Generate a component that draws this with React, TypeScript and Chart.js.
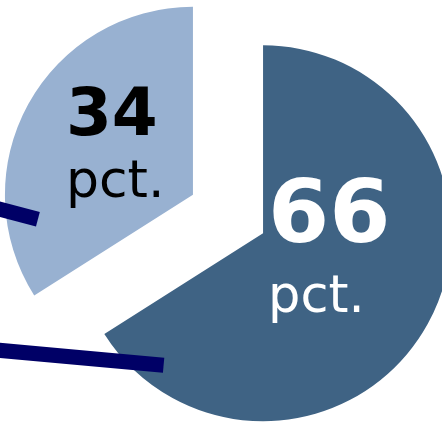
import React, { useEffect, useRef } from "react";
import { Chart, registerables } from "chart.js";

Chart.register(...registerables);

// ---- data ----
const categories = ["Share A", "Share B"];
const values = [66, 34];
const valueLabels = ["66", "34"];
const unitLabels = ["pct.", "pct."];

// ---- styles ----
const sliceColors = ["#3f6384", "#98b1d1"];
const textColors = ["#ffffff", "#000000"];
const numberFontSizes = [88, 66];
const unitFontSizes = [51, 52];
// label placement relative to each (exploded) slice centre, px
const labelDx = [5, -127];
const numberDy = [9, -60];
const unitDy = [79, 2];
// leader lines: end point in polar coords about slice centre (fraction of radius, degrees), line angle
const leaderEndFrac = [0.879, 0.835];
const leaderEndAngle = [127.0, 171.0];
const leaderDir = [5.2, 14.9];
const leaderColor = "#000066";
const leaderWidth = 15;
const explode = 40;
const pieRadius = 188;

const explodePlugin = {
  id: "explodeSlices",
  afterDatasetUpdate(chart: any, args: any) {
    const meta = args.meta;
    meta.data.forEach((arc: any) => {
      const mid = (arc.startAngle + arc.endAngle) / 2;
      arc.x += Math.cos(mid) * explode;
      arc.y += Math.sin(mid) * explode;
    });
  },
};

const overlayPlugin = {
  id: "labelsAndLeaders",
  afterDatasetsDraw(chart: any) {
    const ctx = chart.ctx;
    const meta = chart.getDatasetMeta(0);
    meta.data.forEach((arc: any, i: number) => {
      const { x, y } = arc.getProps(["x", "y"], true);
      ctx.save();
      ctx.fillStyle = textColors[i];
      ctx.textAlign = "left";
      ctx.textBaseline = "alphabetic";
      ctx.font = `bold ${numberFontSizes[i]}px "DejaVu Sans"`;
      ctx.fillText(valueLabels[i], x + labelDx[i], y + numberDy[i]);
      ctx.font = `${unitFontSizes[i]}px "DejaVu Sans"`;
      ctx.fillText(unitLabels[i], x + labelDx[i], y + unitDy[i]);
      ctx.restore();
    });
    meta.data.forEach((arc: any, i: number) => {
      const { x, y, outerRadius } = arc.getProps(["x", "y", "outerRadius"], true);
      const a = (leaderEndAngle[i] * Math.PI) / 180;
      const ex = x + Math.cos(a) * outerRadius * leaderEndFrac[i];
      const ey = y + Math.sin(a) * outerRadius * leaderEndFrac[i];
      const d = (leaderDir[i] * Math.PI) / 180;
      const len = 400;
      ctx.save();
      ctx.strokeStyle = leaderColor;
      ctx.lineWidth = leaderWidth;
      ctx.lineCap = "butt";
      ctx.beginPath();
      ctx.moveTo(ex - Math.cos(d) * len, ey - Math.sin(d) * len);
      ctx.lineTo(ex, ey);
      ctx.stroke();
      ctx.restore();
    });
  },
};

export default function App() {
  const ref = useRef<HTMLCanvasElement | null>(null);
  useEffect(() => {
    if (!ref.current) return;
    const chart = new Chart(ref.current, {
      type: "pie",
      data: {
        labels: categories,
        datasets: [
          {
            data: values,
            backgroundColor: sliceColors,
            borderWidth: 0,
          },
        ],
      },
      options: {
        responsive: false,
        animation: false,
        devicePixelRatio: 1,
        radius: pieRadius,
        layout: { padding: 0 },
        plugins: {
          legend: { display: false },
          tooltip: { enabled: false },
        },
        events: [],
      } as any,
      plugins: [explodePlugin, overlayPlugin],
    });
    return () => chart.destroy();
  }, []);
  return (
    <div
      style={{
        position: "fixed",
        left: 0,
        top: 0,
        width: 442,
        height: 422,
        overflow: "hidden",
        background: "#ffffff",
      }}
    >
      <canvas ref={ref} width={456} height={428} style={{ display: "block" }} />
    </div>
  );
}
